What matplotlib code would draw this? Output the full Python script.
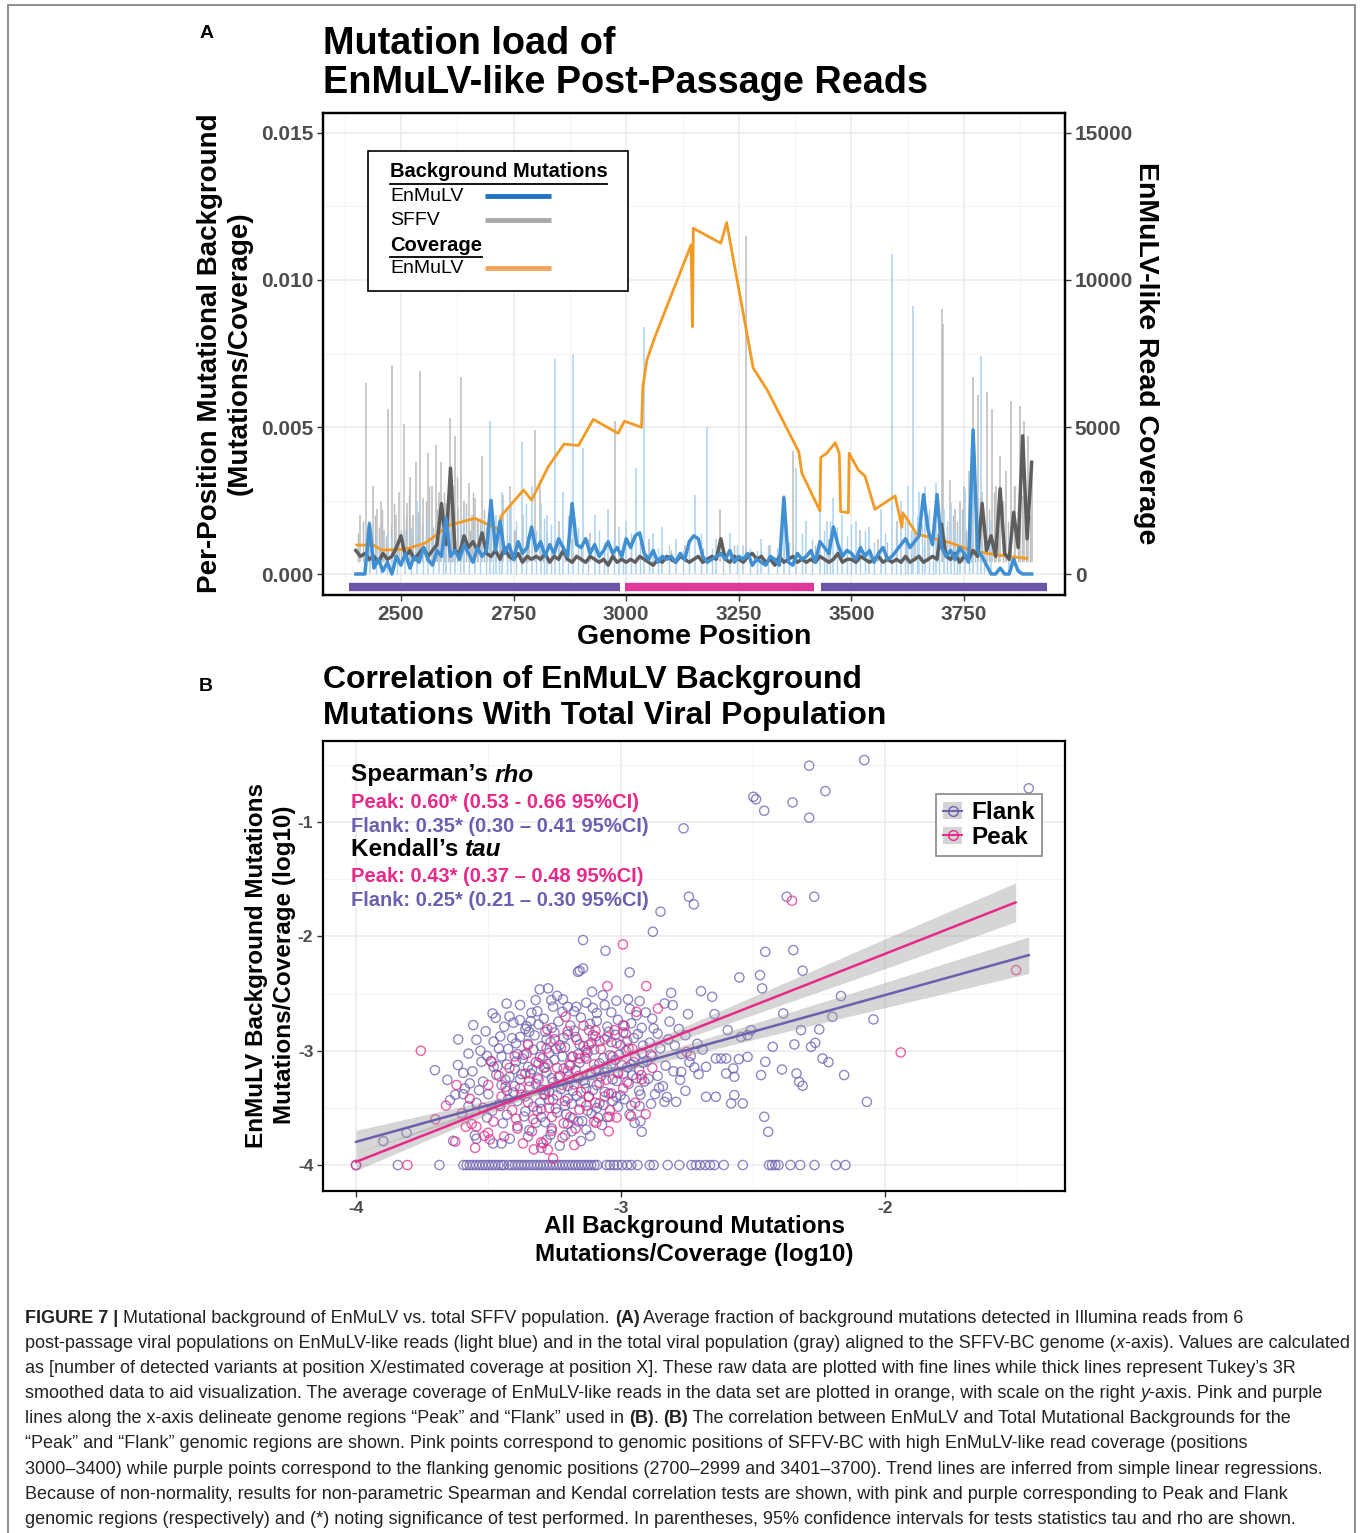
import numpy as np
import matplotlib
matplotlib.use('Agg')
import matplotlib.pyplot as plt
from matplotlib.patches import Rectangle, Patch
from matplotlib.lines import Line2D
from matplotlib.legend_handler import HandlerTuple

plt.rcParams['font.family'] = ['Liberation Sans', 'DejaVu Sans']

W, H = 1360, 1533

# ---------------- Panel A data ----------------
# Tukey 3R smoothed background, one value every 10 nt from 2400 to 3900 (units of 1e-4)
smooth_pos = list(range(2400, 3901, 10))
blue_smooth = [0, 0, 0, 17, 2, 5, 1, 4, 0, 6,
               3, 7, 2, 6, 4, 9, 5, 3, 8, 6,
               19, 6, 8, 5, 10, 7, 4, 9, 6, 8,
               25, 8, 18, 7, 10, 5, 11, 7, 9, 16,
               8, 11, 6, 10, 7, 12, 9, 6, 24, 10,
               9, 12, 7, 10, 6, 8, 11, 7, 9, 6,
               12, 9, 13, 14, 7, 5, 8, 4, 6, 5,
               6, 4, 7, 5, 11, 13, 12, 6, 4, 5,
               6, 7, 5, 8, 4, 6, 5, 7, 3, 5,
               4, 3, 6, 5, 3, 26, 4, 3, 7, 5,
               6, 8, 4, 11, 9, 7, 16, 10, 6, 8,
               7, 5, 9, 6, 8, 4, 7, 9, 5, 6,
               8, 10, 12, 9, 11, 13, 27, 15, 10, 27,
               9, 6, 8, 5, 9, 7, 4, 49, 8, 6,
               3, 0, 0, 2, 0, 0, 5, 1, 0, 0, 0]
gray_smooth = [8, 6, 7, 5, 6, 4, 7, 5, 6, 9,
               13, 6, 8, 5, 7, 9, 6, 8, 10, 24,
               10, 36, 8, 7, 13, 9, 11, 8, 14, 7,
               6, 8, 5, 9, 6, 5, 7, 4, 6, 5,
               6, 5, 7, 4, 6, 5, 8, 5, 4, 6,
               5, 4, 6, 5, 4, 5, 3, 6, 4, 5,
               4, 5, 4, 6, 5, 4, 3, 5, 4, 6,
               5, 4, 6, 5, 4, 5, 6, 4, 5, 6,
               5, 12, 5, 4, 6, 5, 4, 6, 7, 5,
               6, 4, 5, 3, 6, 4, 5, 6, 4, 5,
               4, 5, 4, 6, 5, 4, 5, 7, 4, 5,
               5, 4, 6, 5, 4, 5, 6, 4, 5, 4,
               5, 4, 6, 4, 5, 6, 4, 5, 6, 5,
               17, 6, 5, 7, 4, 6, 5, 8, 6, 24,
               8, 13, 6, 29, 7, 5, 21, 9, 47, 12, 38]

# raw per-position peaks (fine lines), units of 1e-4
gray_spike_pos = [2410, 2422, 2430, 2438, 2447, 2455, 2463, 2472, 2481, 2489,
                  2495, 2507, 2514, 2520, 2527, 2533, 2542, 2550, 2559, 2568,
                  2577, 2584, 2590, 2600, 2609, 2615, 2620, 2627, 2633, 2641,
                  2650, 2658, 2665, 2672, 2679, 2690, 2700, 2712, 2727, 2742,
                  2756, 2770, 2785, 2798, 2808, 2825, 2850, 2880, 2920, 2975,
                  3050, 3130, 3208, 3267, 3320, 3370, 3450, 3520, 3560, 3600,
                  3640, 3670, 3700, 3704, 3719, 3730, 3740, 3750, 3760, 3770,
                  3781, 3790, 3801, 3811, 3820, 3830, 3842, 3855, 3864, 3874,
                  3883, 3892, 3901]
gray_spike_h = [20, 65, 18, 30, 22, 25, 15, 56, 71, 20,
                28, 51, 24, 33, 20, 38, 69, 26, 41, 30,
                44, 28, 38, 24, 53, 30, 47, 22, 67, 25,
                31, 20, 26, 18, 40, 16, 22, 14, 27, 30,
                15, 20, 14, 49, 32, 14, 18, 12, 14, 52,
                12, 10, 22, 115, 10, 42, 12, 15, 12, 18,
                14, 20, 90, 85, 32, 22, 25, 30, 35, 67,
                61, 28, 62, 56, 30, 40, 35, 59, 30, 57,
                52, 47, 38]
gray_small_pos = [2405, 2416, 2427, 2443, 2451, 2459, 2467, 2477, 2485, 2500,
                  2511, 2517, 2524, 2538, 2546, 2555, 2563, 2572, 2581, 2595,
                  2605, 2612, 2624, 2637, 2645, 2654, 2661, 2668, 2684, 2695,
                  2705, 2720, 2735, 2750, 2765, 2780, 2815, 2840, 2865, 2900,
                  2950, 3010, 3100, 3170, 3240, 3300, 3350, 3420, 3480, 3540,
                  3580, 3620, 3660, 3690, 3712, 3725, 3735, 3745, 3755, 3765,
                  3775, 3786, 3795, 3806, 3816, 3825, 3836, 3848, 3860, 3869,
                  3879, 3888, 3896]
gray_small_h = [14, 18, 12, 20, 16, 22, 13, 17, 24, 15,
                19, 27, 14, 21, 17, 25, 30, 16, 22, 28,
                18, 26, 33, 20, 24, 15, 28, 19, 22, 16,
                14, 18, 12, 15, 11, 13, 10, 12, 9, 10,
                9, 10, 8, 9, 10, 8, 9, 10, 9, 10,
                11, 12, 10, 14, 16, 20, 18, 22, 15, 24,
                19, 26, 17, 22, 28, 20, 25, 18, 30, 22,
                27, 24, 20]
blue_spike_pos = [2432, 2455, 2480, 2510, 2535, 2560, 2585, 2600, 2620, 2640,
                  2665, 2698, 2712, 2725, 2745, 2768, 2790, 2810, 2825, 2842,
                  2860, 2881, 2905, 2930, 2960, 2985, 3000, 3021, 3040, 3060,
                  3080, 3110, 3153, 3179, 3200, 3230, 3260, 3300, 3351, 3376,
                  3400, 3430, 3445, 3459, 3480, 3510, 3540, 3565, 3589, 3610,
                  3625, 3637, 3650, 3663, 3688, 3705, 3720, 3740, 3752, 3770,
                  3788, 3810, 3850]
blue_spike_h = [18, 10, 12, 15, 25, 18, 14, 20, 16, 22,
                15, 52, 20, 28, 25, 45, 30, 24, 20, 73,
                28, 75, 43, 20, 22, 16, 18, 36, 84, 14,
                16, 12, 27, 50, 12, 14, 10, 12, 27, 36,
                18, 22, 18, 26, 20, 18, 16, 22, 109, 25,
                30, 91, 28, 30, 31, 22, 24, 20, 29, 50,
                74, 18, 12]
blue_small_pos = [2445, 2468, 2492, 2522, 2548, 2572, 2593, 2610, 2630, 2652,
                  2675, 2688, 2705, 2718, 2735, 2755, 2778, 2800, 2818, 2833,
                  2850, 2870, 2893, 2915, 2940, 2950, 2972, 2992, 3010, 3030,
                  3050, 3070, 3095, 3125, 3140, 3165, 3190, 3215, 3245, 3275,
                  3290, 3315, 3335, 3362, 3390, 3412, 3438, 3452, 3468, 3490,
                  3500, 3520, 3530, 3550, 3575, 3598, 3618, 3632, 3645, 3657,
                  3672, 3680, 3695, 3712, 3728, 3735, 3760, 3778, 3795]
blue_small_h = [12, 14, 10, 16, 13, 15, 18, 14, 17, 12,
                19, 15, 16, 20, 22, 18, 24, 15, 19, 17,
                14, 20, 16, 12, 15, 11, 13, 10, 14, 12,
                11, 9, 10, 8, 12, 14, 9, 8, 10, 9,
                8, 10, 9, 11, 14, 12, 15, 18, 16, 13,
                17, 12, 15, 11, 14, 16, 18, 15, 20, 17,
                22, 19, 21, 18, 16, 14, 12, 15, 10]

# average EnMuLV-like read coverage (right axis)
cov_pos = [2402, 2439, 2457, 2509, 2553, 2609, 2664, 2716, 2724, 2772,
           2790, 2827, 2862, 2894, 2927, 2982, 2996, 3034, 3037, 3046,
           3064, 3144, 3147, 3149, 3210, 3223, 3282, 3313, 3383, 3390,
           3430, 3432, 3445, 3464, 3473, 3476, 3493, 3495, 3515, 3530,
           3552, 3597, 3612, 3614, 3645, 3719, 3763, 3800, 3852, 3889]
cov_val = [985, 985, 815, 840, 1045, 1665, 1895, 1520, 2005, 2855,
           2515, 3650, 4420, 4370, 5260, 4785, 5200, 4990, 6370, 7280,
           8075, 11195, 8415, 11760, 11250, 11950, 7000, 6260, 4160, 3425,
           2150, 3970, 4105, 4465, 4105, 2120, 2085, 4105, 3540, 3335,
           2200, 2655, 1590, 2085, 1360, 1065, 815, 705, 590, 535]

# genome regions used in panel B
region_start = [2385, 2997, 3432]
region_end = [2986, 3417, 3934]
region_name = ['Flank', 'Peak', 'Flank']

# ---------------- Panel B data (log10 mutations/coverage) ----------------
flank_pts = [
    (-2.287, -0.507), (-2.079, -0.458), (-2.226, -0.729), (-2.350, -0.828), (-2.287, -0.962),
    (-1.457, -0.705), (-2.498, -0.779), (-2.488, -0.801), (-2.457, -0.901), (-2.762, -1.055),
    (-2.372, -1.653), (-2.268, -1.653), (-2.742, -1.653), (-2.723, -1.720), (-2.849, -1.784),
    (-2.878, -1.959), (-3.142, -2.032), (-3.057, -2.126), (-2.453, -2.135), (-2.347, -2.120),
    (-2.312, -2.300), (-2.167, -2.522), (-2.385, -2.674), (-2.199, -2.703), (-2.044, -2.726),
    (-2.318, -2.820), (-2.249, -2.814), (-2.343, -2.945), (-2.280, -2.966), (-2.264, -2.931),
    (-2.390, -3.164), (-2.237, -3.068), (-2.214, -3.100), (-2.335, -3.199), (-2.325, -3.272),
    (-2.312, -3.307), (-2.155, -3.213), (-2.069, -3.447),
    (-3.142, -2.280), (-3.155, -2.300), (-2.966, -2.315), (-2.551, -2.359), (-2.473, -2.339),
    (-2.465, -2.455), (-3.108, -2.485), (-3.067, -2.514), (-3.016, -2.563), (-2.972, -2.551),
    (-2.928, -2.566), (-2.809, -2.494), (-2.696, -2.479), (-2.654, -2.528), (-2.745, -2.680),
    (-2.834, -2.587), (-2.803, -2.601), (-2.645, -2.680), (-2.595, -2.820), (-2.507, -2.820),
    (-2.520, -2.864), (-2.425, -2.966), (-2.545, -2.879), (-2.620, -3.068), (-2.640, -3.068),
    (-2.601, -3.068), (-2.553, -3.074), (-2.520, -3.054), (-2.453, -3.097), (-2.721, -3.146),
    (-2.771, -3.185), (-2.677, -3.141), (-2.574, -3.155), (-2.601, -3.199), (-2.570, -3.228),
    (-2.469, -3.213), (-2.755, -3.351), (-2.677, -3.403), (-2.640, -3.403), (-2.570, -3.388),
    (-2.538, -3.461), (-2.582, -3.461), (-2.790, -3.447), (-2.834, -3.447), (-2.457, -3.578),
    (-2.442, -3.709), (-2.928, -3.485), (-2.966, -3.558), (-2.947, -3.631), (-2.925, -3.616),
    (-2.920, -3.709), (-3.016, -3.403), (-3.010, -3.490),
    (-3.897, -3.791), (-3.809, -3.718), (-3.633, -3.788), (-3.702, -3.170), (-3.614, -2.901),
    (-3.557, -2.776), (-3.484, -2.674), (-3.472, -2.712), (-3.431, -2.588), (-3.645, -3.433),
    (-3.595, -3.194), (-3.570, -3.286), (-3.589, -3.330), (-3.595, -3.380), (-3.545, -3.456),
    (-3.526, -3.097), (-3.551, -3.740), (-3.545, -3.770), (-3.482, -3.811), (-3.450, -3.811),
    (-3.419, -3.770), (-3.161, -2.310), (-3.306, -2.464), (-3.274, -2.455), (-3.321, -2.557),
    (-3.262, -2.557), (-3.218, -2.551), (-3.200, -2.616), (-3.167, -2.616), (-3.381, -2.732),
    (-3.337, -2.668), (-3.346, -2.835),
    # dense core of the cloud
    (-3.24, -2.52), (-3.13, -2.58), (-3.06, -2.60), (-3.38, -2.60),
    (-3.42, -2.70), (-3.29, -2.72), (-3.22, -2.66), (-3.15, -2.71), (-3.09, -2.67), (-3.01, -2.73),
    (-2.94, -2.69), (-2.88, -2.72),
    (-3.51, -2.83), (-3.44, -2.79), (-3.36, -2.81), (-3.31, -2.77), (-3.25, -2.84), (-3.19, -2.78),
    (-3.12, -2.82), (-3.05, -2.79), (-2.99, -2.84), (-2.92, -2.80), (-2.86, -2.85), (-2.78, -2.81),
    (-3.48, -2.92), (-3.41, -2.89), (-3.35, -2.94), (-3.28, -2.90), (-3.23, -2.95), (-3.17, -2.88),
    (-3.11, -2.93), (-3.06, -2.90), (-3.00, -2.95), (-2.95, -2.89), (-2.89, -2.93), (-2.82, -2.90),
    (-2.71, -2.94),
    (-3.53, -3.00), (-3.46, -2.98), (-3.39, -3.03), (-3.33, -2.99), (-3.27, -3.02), (-3.21, -2.97),
    (-3.16, -3.03), (-3.10, -2.99), (-3.04, -3.04), (-2.98, -3.00), (-2.92, -3.02), (-2.85, -2.98),
    (-2.77, -3.03), (-2.69, -2.99),
    (-3.49, -3.09), (-3.43, -3.12), (-3.37, -3.07), (-3.31, -3.11), (-3.25, -3.08), (-3.19, -3.13),
    (-3.13, -3.07), (-3.08, -3.11), (-3.02, -3.08), (-2.96, -3.12), (-2.90, -3.09), (-2.83, -3.13),
    (-2.74, -3.10),
    (-3.56, -3.18), (-3.47, -3.21), (-3.40, -3.16), (-3.34, -3.20), (-3.29, -3.15), (-3.23, -3.22),
    (-3.17, -3.17), (-3.11, -3.21), (-3.05, -3.16), (-2.99, -3.20), (-2.93, -3.17), (-2.86, -3.22),
    (-2.80, -3.18),
    (-3.52, -3.27), (-3.45, -3.30), (-3.38, -3.25), (-3.32, -3.29), (-3.26, -3.24), (-3.20, -3.31),
    (-3.14, -3.26), (-3.09, -3.30), (-3.03, -3.25), (-2.97, -3.29), (-2.91, -3.27), (-2.84, -3.31),
    (-3.50, -3.38), (-3.43, -3.35), (-3.36, -3.40), (-3.30, -3.34), (-3.24, -3.39), (-3.18, -3.35),
    (-3.12, -3.40), (-3.06, -3.36), (-3.00, -3.39), (-2.93, -3.35), (-2.87, -3.38),
    (-3.46, -3.47), (-3.39, -3.44), (-3.33, -3.49), (-3.27, -3.43), (-3.21, -3.48), (-3.15, -3.45),
    (-3.09, -3.50), (-3.03, -3.44), (-2.96, -3.48),
    (-3.43, -3.56), (-3.36, -3.53), (-3.30, -3.58), (-3.24, -3.54), (-3.18, -3.59), (-3.11, -3.55),
    (-3.05, -3.58),
    (-3.39, -3.66), (-3.32, -3.63), (-3.26, -3.68), (-3.20, -3.64), (-3.13, -3.69), (-3.07, -3.65),
    (-3.35, -3.75), (-3.28, -3.78), (-3.21, -3.74), (-3.15, -3.79),
    (-3.30, -3.85), (-3.23, -3.83),
    (-3.34, -2.74), (-3.26, -2.80), (-3.20, -2.86), (-3.14, -2.96), (-3.22, -3.05), (-3.35, -3.14),
    (-3.28, -3.19), (-3.16, -3.24), (-3.06, -3.19), (-3.42, -3.23), (-3.48, -3.14), (-3.13, -3.33),
    (-3.27, -3.36), (-3.40, -3.31), (-3.20, -3.42), (-3.08, -3.46), (-3.30, -3.51), (-3.16, -3.62),
    (-3.02, -2.86), (-2.96, -2.76), (-3.09, -2.74), (-3.38, -2.88), (-3.30, -2.96), (-3.45, -3.05),
    (-2.88, -3.05), (-2.94, -3.24),
    (-3.405, -2.755), (-3.355, -2.785), (-3.285, -2.835), (-3.235, -2.745), (-3.175, -2.825),
    (-3.115, -2.765), (-3.045, -2.835), (-2.985, -2.785), (-2.935, -2.855), (-2.875, -2.805),
    (-3.455, -2.875), (-3.395, -2.935), (-3.325, -2.865), (-3.265, -2.925), (-3.215, -2.885),
    (-3.155, -2.945), (-3.095, -2.875), (-3.035, -2.925), (-2.975, -2.915), (-2.915, -2.955),
    (-3.505, -3.045), (-3.425, -2.985), (-3.365, -3.035), (-3.305, -3.055), (-3.245, -2.985),
    (-3.185, -3.055), (-3.125, -3.015), (-3.065, -3.065), (-3.005, -3.035), (-2.945, -3.055),
    (-3.465, -3.135), (-3.395, -3.095), (-3.335, -3.165), (-3.275, -3.115), (-3.215, -3.155),
    (-3.155, -3.105), (-3.095, -3.165), (-3.035, -3.115), (-2.975, -3.145), (-2.915, -3.105),
    (-3.435, -3.255), (-3.375, -3.205), (-3.315, -3.235), (-3.255, -3.275), (-3.195, -3.225),
    (-3.135, -3.285), (-3.075, -3.225), (-3.015, -3.265), (-2.955, -3.215), (-2.895, -3.245),
    (-3.405, -3.365), (-3.345, -3.315), (-3.285, -3.385), (-3.225, -3.335), (-3.165, -3.395),
    (-3.105, -3.345), (-3.045, -3.375), (-2.985, -3.425), (-3.425, -3.425), (-3.305, -3.455),
    (-3.245, -3.505), (-3.185, -3.465), (-3.125, -3.525), (-3.065, -3.475), (-3.365, -3.575),
    (-3.285, -3.625), (-3.205, -3.555), (-3.145, -3.615), (-3.085, -3.585), (-3.345, -3.695),
    (-3.265, -3.735), (-3.185, -3.705), (-3.115, -3.745), (-3.255, -2.615), (-3.175, -2.655),
    (-3.105, -2.625), (-3.035, -2.665), (-2.965, -2.635), (-3.315, -2.655), (-2.905, -2.665),
    (-2.815, -2.745), (-2.755, -2.865), (-2.795, -2.955), (-2.735, -3.045), (-2.775, -3.255),
    (-2.855, -3.325), (-2.825, -3.405), (-2.885, -3.465), (-2.925, -3.385), (-2.705, -3.205),
    (-3.545, -2.905), (-3.575, -3.025), (-3.615, -3.125), (-3.535, -3.345), (-3.485, -3.525),
    (-3.445, -3.635), (-3.505, -3.585), (-3.655, -3.255), (-3.625, -3.385), (-3.575, -3.485),
]
# flank positions with no EnMuLV background (plotted at the -4 floor)
flank_floor_x = [-4.0, -3.842, -3.685,
                 -3.594, -3.582, -3.570, -3.558, -3.546, -3.534, -3.522, -3.510, -3.498,
                 -3.486, -3.474, -3.462, -3.450, -3.441,
                 -3.423, -3.411, -3.399, -3.387, -3.375, -3.363, -3.351, -3.339, -3.327,
                 -3.315, -3.303, -3.291, -3.279, -3.267, -3.255, -3.243, -3.231, -3.219,
                 -3.207, -3.195, -3.183, -3.171, -3.159, -3.147, -3.135, -3.123, -3.111,
                 -3.099, -3.089,
                 -3.053, -3.040, -3.025, -3.012, -2.995, -2.975, -2.960, -2.936, -2.890,
                 -2.875, -2.822, -2.778, -2.732, -2.715, -2.700, -2.680, -2.662, -2.646,
                 -2.610, -2.538, -2.439, -2.428, -2.415, -2.403, -2.358, -2.321, -2.267,
                 -2.186, -2.150]
floor_y = -4.0

peak_pts = [
    (-3.755, -3.000), (-3.501, -3.718), (-3.494, -3.776), (-3.369, -3.811), (-3.328, -3.863),
    (-3.293, -3.811), (-3.255, -3.942), (-3.563, -3.640), (-3.545, -3.664), (-3.488, -3.097),
    (-3.277, -2.814), (-3.208, -2.703), (-2.991, -2.070), (-3.050, -2.435), (-2.903, -2.435),
    (-2.859, -2.631), (-2.960, -3.573), (-3.092, -3.631), (-3.042, -3.578), (-2.352, -1.688),
    (-1.941, -3.015), (-1.505, -2.295), (-4.000, -4.000), (-3.806, -4.000), (-2.750, -3.010),
    (-3.023, -2.820), (-2.991, -2.776), (-2.940, -2.660), (-2.922, -3.213), (-3.010, -3.185),
    (-3.105, -2.864), (-3.130, -2.995), (-3.155, -3.068),
    (-3.45, -3.40), (-3.41, -3.52), (-3.38, -3.33), (-3.35, -3.45), (-3.33, -3.60), (-3.31, -3.25),
    (-3.29, -3.38), (-3.27, -3.50), (-3.26, -3.70), (-3.24, -3.15), (-3.22, -3.30), (-3.21, -3.44),
    (-3.19, -3.58), (-3.18, -3.05), (-3.16, -3.22), (-3.15, -3.36), (-3.13, -3.48), (-3.12, -2.95),
    (-3.10, -3.12), (-3.08, -3.28), (-3.06, -3.40), (-3.05, -2.88), (-3.03, -3.05), (-3.01, -3.20),
    (-2.99, -3.33), (-2.97, -2.98), (-2.95, -3.10), (-3.48, -3.62), (-3.44, -3.75), (-3.39, -3.68),
    (-3.36, -3.20), (-3.32, -3.10), (-3.28, -2.98), (-3.25, -2.90), (-3.20, -2.83), (-3.14, -2.78),
    (-3.30, -3.80), (-3.22, -3.76), (-3.17, -3.68), (-3.10, -3.62), (-3.52, -3.50), (-3.50, -3.30),
    (-3.57, -3.42), (-3.60, -3.55), (-3.42, -3.15), (-3.46, -3.22), (-3.26, -3.58), (-3.20, -3.18),
    (-3.12, -3.40), (-3.04, -3.52), (-2.92, -3.25), (-2.88, -3.15), (-3.35, -2.95), (-3.40, -3.05),
    (-3.08, -2.92), (-2.98, -2.85), (-3.66, -3.48), (-3.62, -3.30), (-3.70, -3.60), (-3.55, -3.85),
    (-3.345, -3.265), (-3.285, -3.345), (-3.235, -3.235), (-3.175, -3.295), (-3.115, -3.195),
    (-3.055, -3.255), (-2.995, -3.125), (-3.195, -3.125), (-3.135, -3.055), (-3.255, -3.425),
    (-3.315, -3.525), (-3.375, -3.385), (-3.435, -3.315), (-3.395, -3.595), (-3.335, -3.705),
    (-3.215, -3.635), (-3.155, -3.515), (-3.095, -3.455), (-3.035, -3.375), (-2.975, -3.275),
    (-3.075, -2.985), (-3.015, -2.935), (-3.165, -2.905), (-3.225, -2.975), (-3.295, -3.065),
    (-3.455, -3.485), (-3.515, -3.745), (-3.275, -3.865), (-3.175, -3.825), (-3.045, -3.705),
    (-2.945, -3.455), (-2.905, -3.555), (-3.585, -3.665), (-3.625, -3.795), (-3.095, -2.825),
    (-2.955, -2.985), (-3.285, -3.145), (-3.355, -3.025), (-2.885, -3.035), (-3.015, -3.585),
]

# linear fits with 95% bands: x, fitted y, half width
peak_fit_x = [-4.0, -3.4, -3.0, -2.5, -2.0, -1.507]
peak_fit_y = [-3.972, -3.426, -3.062, -2.607, -2.152, -1.703]
peak_fit_se = [0.075, 0.030, 0.030, 0.080, 0.130, 0.170]
flank_fit_x = [-4.0, -3.4, -3.0, -2.5, -2.0, -1.457]
flank_fit_y = [-3.797, -3.412, -3.155, -2.834, -2.513, -2.164]
flank_fit_se = [0.100, 0.030, 0.030, 0.070, 0.110, 0.160]

stat_lines = [
    ('Peak: 0.60* (0.53 - 0.66 95%CI)', 'Peak'),
    ('Flank: 0.35* (0.30 \u2013 0.41 95%CI)', 'Flank'),
    ('Peak: 0.43* (0.37 \u2013 0.48 95%CI)', 'Peak'),
    ('Flank: 0.25* (0.21 \u2013 0.30 95%CI)', 'Flank'),
]

caption = [
    [('FIGURE 7 | ', 'bold', 'normal'), ('Mutational background of EnMuLV vs. total SFFV population. ', 'normal', 'normal'),
     ('(A)', 'bold', 'normal'), (' Average fraction of background mutations detected in Illumina reads from 6', 'normal', 'normal')],
    [('post-passage viral populations on EnMuLV-like reads (light blue) and in the total viral population (gray) aligned to the SFFV-BC genome (', 'normal', 'normal'),
     ('x', 'normal', 'italic'), ('-axis). Values are calculated', 'normal', 'normal')],
    [('as [number of detected variants at position X/estimated coverage at position X]. These raw data are plotted with fine lines while thick lines represent Tukey\u2019s 3R', 'normal', 'normal')],
    [('smoothed data to aid visualization. The average coverage of EnMuLV-like reads in the data set are plotted in orange, with scale on the right ', 'normal', 'normal'),
     ('y', 'normal', 'italic'), ('-axis. Pink and purple', 'normal', 'normal')],
    [('lines along the x-axis delineate genome regions \u201cPeak\u201d and \u201cFlank\u201d used in ', 'normal', 'normal'), ('(B)', 'bold', 'normal'),
     ('. ', 'normal', 'normal'), ('(B)', 'bold', 'normal'),
     (' The correlation between EnMuLV and Total Mutational Backgrounds for the', 'normal', 'normal')],
    [('\u201cPeak\u201d and \u201cFlank\u201d genomic regions are shown. Pink points correspond to genomic positions of SFFV-BC with high EnMuLV-like read coverage (positions', 'normal', 'normal')],
    [('3000\u20133400) while purple points correspond to the flanking genomic positions (2700\u20132999 and 3401\u20133700). Trend lines are inferred from simple linear regressions.', 'normal', 'normal')],
    [('Because of non-normality, results for non-parametric Spearman and Kendal correlation tests are shown, with pink and purple corresponding to Peak and Flank', 'normal', 'normal')],
    [('genomic regions (respectively) and (*) noting significance of test performed. In parentheses, 95% confidence intervals for tests statistics tau and rho are shown.', 'normal', 'normal')],
]

# ---------------- styles ----------------
blue_thick = '#3f8fd2'
blue_raw = '#a9d1f2'
gray_thick = '#5e5e5e'
gray_raw = '#bcbcbc'
orange = '#f39a24'
col = {'Flank': '#6c5fb0', 'Peak': '#e7298a'}
bar_col = {'Flank': '#6b55a6', 'Peak': '#e0389a'}
tick_col = '#4d4d4d'
grid_col = '#ebebeb'

fig = plt.figure(figsize=(W / 100, H / 100), dpi=100)
renderer = fig.canvas.get_renderer()


def px_axes(left, top, right, bottom, **kw):
    return fig.add_axes([left / W, 1 - bottom / H, (right - left) / W, (bottom - top) / H], **kw)


def ftext(x, y, s, **kw):
    return fig.text(x / W, 1 - y / H, s, **kw)


def seg_width(s, **kw):
    t = fig.text(0, 0, '|' + s + '|', **kw)
    w1 = t.get_window_extent(renderer).width
    t.set_text('||')
    w0 = t.get_window_extent(renderer).width
    t.remove()
    return w1 - w0


def rich(x, y, parts, **kw):
    for s, weight, style in parts:
        ftext(x, y, s, fontweight=weight, fontstyle=style, **kw)
        x += seg_width(s, fontweight=weight, fontstyle=style, **kw)


def style_axes(ax, size):
    for sp in ax.spines.values():
        sp.set_linewidth(1.6)
        sp.set_color('black')
    ax.tick_params(which='major', length=4, width=1, color='#333333', labelcolor=tick_col,
                   labelsize=size, pad=3)
    ax.tick_params(which='minor', length=0)
    for lab in ax.get_xticklabels() + ax.get_yticklabels():
        lab.set_fontweight('bold')
    ax.grid(True, which='major', color=grid_col, lw=1.1)
    ax.grid(True, which='minor', color='#f3f3f3', lw=0.7)
    ax.set_axisbelow(True)


# outer frame of the figure panel
fig.patches.append(Rectangle((8 / W, -0.01), 1347 / W, (1528 / H) + 0.01, transform=fig.transFigure,
                             fill=False, edgecolor='#7a7a7a', lw=1.2))

# ================= Panel A =================
axA = px_axes(323, 113, 1065, 595)
axA.set_xlim(2327, 3974)
axA.set_ylim(-0.000714, 0.01568)
axA.set_xticks([2500, 2750, 3000, 3250, 3500, 3750])
axA.set_xticks([2375, 2625, 2875, 3125, 3375, 3625, 3875], minor=True)
axA.set_yticks([0.0, 0.005, 0.010, 0.015])
axA.set_yticklabels(['0.000', '0.005', '0.010', '0.015'])
axA.set_yticks([0.0025, 0.0075, 0.0125], minor=True)

for s, e, name in zip(region_start, region_end, region_name):
    axA.plot([s, e], [-0.00044, -0.00044], color=bar_col[name], lw=6, solid_capstyle='butt', zorder=2)

axA.vlines(gray_small_pos, 0.0004, np.array(gray_small_h) * 1e-4, colors=gray_raw, lw=1.0, zorder=3)
axA.vlines(gray_spike_pos, 0.0004, np.array(gray_spike_h) * 1e-4, colors=gray_raw, lw=1.1, zorder=3)
axA.vlines(blue_small_pos, 0.0, np.array(blue_small_h) * 1e-4, colors=blue_raw, lw=1.0, zorder=3)
axA.vlines(blue_spike_pos, 0.0, np.array(blue_spike_h) * 1e-4, colors=blue_raw, lw=1.1, zorder=3)
style_axes(axA, 15)

axA2 = axA.twinx()
axA2.set_ylim(-714, 15680)
axA2.set_yticks([0, 5000, 10000, 15000])
axA2.plot(cov_pos, cov_val, color=orange, lw=2.0)
axA2.tick_params(length=4, width=1, color='#333333', labelcolor=tick_col, labelsize=15, pad=3)
for lab in axA2.get_yticklabels():
    lab.set_fontweight('bold')
for sp in axA2.spines.values():
    sp.set_linewidth(1.6)

axA3 = px_axes(323, 113, 1065, 595, sharex=axA, sharey=axA)
axA3.axis('off')
axA3.plot(smooth_pos, np.array(gray_smooth) * 1e-4, color=gray_thick, lw=2.5)
axA3.plot(smooth_pos, np.array(blue_smooth) * 1e-4, color=blue_thick, lw=2.5)

# legend of panel A
tA = axA3.transAxes
axA3.add_patch(Rectangle((0.0606, 0.631), 0.3504, 0.290, transform=tA, facecolor='white',
                         edgecolor='black', lw=1.2, zorder=10, clip_on=False))
axA3.text(0.0903, 0.8776, 'Background Mutations', transform=tA, fontsize=14.5, fontweight='bold',
          va='center', zorder=11)
axA3.plot([0.0903, 0.3827], [0.853, 0.853], transform=tA, color='black', lw=1.3, zorder=11)
axA3.text(0.0903, 0.726, 'Coverage', transform=tA, fontsize=14.5, fontweight='bold', va='center', zorder=11)
axA3.plot([0.0903, 0.2143], [0.702, 0.702], transform=tA, color='black', lw=1.3, zorder=11)
for yy, lab, c in [(0.8278, 'EnMuLV', '#1e73c8'), (0.778, 'SFFV', '#aaaaaa'), (0.678, 'EnMuLV', '#f6a55c')]:
    axA3.text(0.0903, yy, lab, transform=tA, fontsize=14, va='center', zorder=11)
    axA3.plot([0.2183, 0.3073], [yy, yy], transform=tA, color=c, lw=3.5, zorder=11,
              solid_capstyle='butt')

ftext(207, 33, 'A', fontsize=14, fontweight='bold', ha='center', va='center')
ftext(323, 44, 'Mutation load of', fontsize=27.3, fontweight='bold', va='center')
ftext(323, 83, 'EnMuLV-like Post-Passage Reads', fontsize=27.3, fontweight='bold', va='center')
ftext(694, 637, 'Genome Position', fontsize=20.5, fontweight='bold', ha='center', va='center')
ftext(210, 353, 'Per-Position Mutational Background', fontsize=20, fontweight='bold',
      rotation=90, ha='center', va='center')
ftext(240, 353, '(Mutations/Coverage)', fontsize=20, fontweight='bold', rotation=90, ha='center', va='center')
ftext(1146, 353, 'EnMuLV-like Read Coverage', fontsize=20.5, fontweight='bold', rotation=270,
      ha='center', va='center')

# ================= Panel B =================
axB = px_axes(323, 741, 1065, 1191)
axB.set_xlim(-4.125, -1.32)
axB.set_ylim(-4.227, -0.291)
axB.set_xticks([-4, -3, -2])
axB.set_xticklabels(['-4', '-3', '-2'])
axB.set_xticks([-3.5, -2.5, -1.5], minor=True)
axB.set_yticks([-4, -3, -2, -1])
axB.set_yticklabels(['-4', '-3', '-2', '-1'])
axB.set_yticks([-3.5, -2.5, -1.5, -0.5], minor=True)
style_axes(axB, 12.5)

fx, fy = zip(*flank_pts)
px, py = zip(*peak_pts)
axB.scatter(fx, fy, s=44, facecolors='none', edgecolors=col['Flank'], linewidths=1.0, alpha=0.75, zorder=3)
axB.scatter(flank_floor_x, [floor_y] * len(flank_floor_x), s=44, facecolors='none',
            edgecolors=col['Flank'], linewidths=1.0, alpha=0.75, zorder=3)
axB.scatter(px, py, s=44, facecolors='none', edgecolors=col['Peak'], linewidths=1.0, alpha=0.75, zorder=3)

for fxs, fys, se, name in [(flank_fit_x, flank_fit_y, flank_fit_se, 'Flank'),
                           (peak_fit_x, peak_fit_y, peak_fit_se, 'Peak')]:
    fys = np.array(fys)
    se = np.array(se)
    axB.fill_between(fxs, fys - se, fys + se, color='#999999', alpha=0.4, lw=0, zorder=4)
    axB.plot(fxs, fys, color=col[name], lw=1.8, zorder=5)

hf = (Patch(facecolor='#d4d4d4', edgecolor='none'),
      Line2D([], [], color=col['Flank'], marker='o', mfc='none', ms=7, lw=1.4))
hp = (Patch(facecolor='#d4d4d4', edgecolor='none'),
      Line2D([], [], color=col['Peak'], marker='o', mfc='none', ms=7, lw=1.4))
leg = axB.legend([hf, hp], ['Flank', 'Peak'], handler_map={tuple: HandlerTuple(ndivide=1, pad=0)},
                 loc='upper right', bbox_to_anchor=(0.969, 0.882), prop=dict(weight='bold', size=17.5),
                 frameon=True, fancybox=False, edgecolor='#888888', framealpha=1, handlelength=0.8,
                 handletextpad=0.35, labelspacing=0.05, borderpad=0.3, borderaxespad=0)
leg.get_frame().set_linewidth(1.2)

rich(351, 775, [('Spearman\u2019s ', 'bold', 'normal'), ('rho', 'bold', 'italic')],
     fontsize=17.5, va='center', color='black')
rich(351, 850, [('Kendall\u2019s ', 'bold', 'normal'), ('tau', 'bold', 'italic')],
     fontsize=17.5, va='center', color='black')
for yy, (s, name) in zip([802, 826, 877, 901], stat_lines):
    ftext(351, yy, s, fontsize=14.5, fontweight='bold', color=col[name], va='center')

ftext(206, 687, 'B', fontsize=14, fontweight='bold', ha='center', va='center')
ftext(323, 680, 'Correlation of EnMuLV Background', fontsize=23, fontweight='bold', va='center')
ftext(323, 716, 'Mutations With Total Viral Population', fontsize=23, fontweight='bold', va='center')
ftext(694, 1227, 'All Background Mutations', fontsize=17.5, fontweight='bold', ha='center', va='center')
ftext(694, 1254, 'Mutations/Coverage (log10)', fontsize=17.5, fontweight='bold', ha='center', va='center')
ftext(257, 965, 'EnMuLV Background Mutations', fontsize=17.5, fontweight='bold', rotation=90,
      ha='center', va='center')
ftext(285, 965, 'Mutations/Coverage (log10)', fontsize=17.5, fontweight='bold', rotation=90,
      ha='center', va='center')

# ================= caption =================
for i, parts in enumerate(caption):
    rich(25, 1323 + i * 25.1, parts, fontsize=12.95, va='baseline', color='#222222')

fig.savefig('out.png', dpi=100)
